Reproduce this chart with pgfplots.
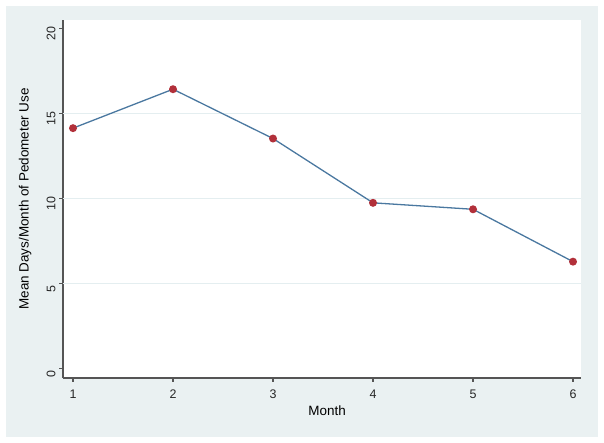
\documentclass[border=0pt]{standalone}
\usepackage{pgfplots}
\pgfplotsset{compat=1.18}
\usepackage{fontspec}
\setmainfont{Liberation Sans}
\definecolor{bgcol}{RGB}{234,241,242}
\definecolor{gridcol}{RGB}{228,238,240}
\definecolor{linecol}{RGB}{74,120,160}
\definecolor{markcol}{RGB}{178,48,58}
\definecolor{axcol}{RGB}{85,85,85}
\begin{document}
\begin{tikzpicture}[x=1bp,y=1bp]
\useasboundingbox (0,0) rectangle (604,443);
\fill[bgcol] (6,6) rectangle (598,437);
\begin{axis}[
  at={(63bp,65bp)}, anchor=south west,
  width=518bp, height=358bp, scale only axis,
  xmin=0.9, xmax=6.08, ymin=-0.55, ymax=20.5,
  axis x line*=bottom, axis y line*=left,
  axis line style={axcol, line width=1.8pt},
  axis background/.style={fill=white},
  xtick={1,2,3,4,5,6}, ytick={0,5,10,15,20},
  tick style={axcol, line width=1.1pt},
  major tick length=4bp,
  tick align=outside,
  yticklabel style={rotate=90, anchor=south, font=\fontsize{12.5}{13}\selectfont, xshift=-5bp},
  xticklabel style={font=\fontsize{12.5}{13}\selectfont, yshift=-4bp},
  every tick label/.append style={text=black!85},
  /pgf/number format/assume math mode=true,
  extra y ticks={5,10,15}, extra y tick labels={},
  extra y tick style={grid=major, major tick length=0pt, grid style={gridcol, line width=0.8pt}},
  xlabel={Month},
  ylabel={Mean Days/Month of Pedometer Use},
  label style={font=\fontsize{13.5}{14}\selectfont},
  xlabel style={at={(axis description cs:0.51,0)}, anchor=north, yshift=-24bp},
  ylabel style={at={(axis description cs:0,0.5)}, anchor=south, yshift=28bp},
  clip=false,
]
\addplot[linecol, line width=1.3pt, mark=*, mark size=3.3bp, mark options={markcol, draw=markcol, fill=markcol}]
coordinates {(1,14.14) (2,16.43) (3,13.53) (4,9.75) (5,9.37) (6,6.29)};
\end{axis}
\end{tikzpicture}
\end{document}
